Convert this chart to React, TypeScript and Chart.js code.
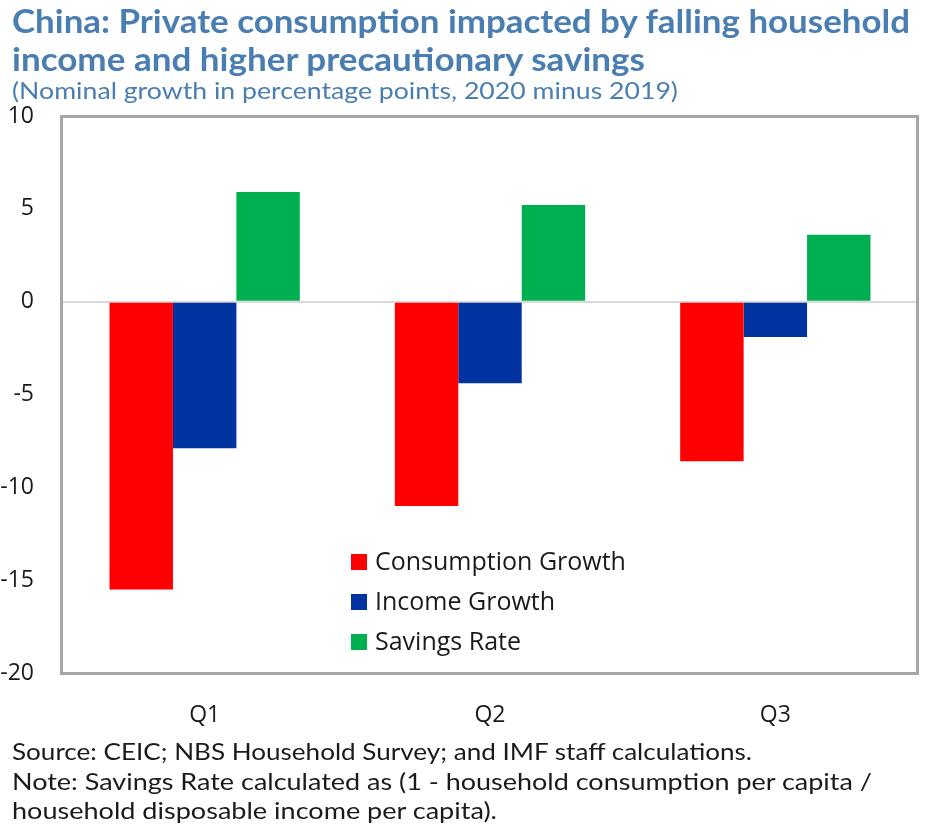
import React, { useEffect, useLayoutEffect, useRef } from "react";
import { Chart, registerables } from "chart.js";

Chart.register(...registerables);

const categories = ["Q1", "Q2", "Q3"];
const consumptionGrowth = [-15.5, -11.0, -8.6];
const incomeGrowth = [-7.9, -4.4, -1.9];
const savingsRate = [5.9, 5.2, 3.6];
const seriesLabels = ["Consumption Growth", "Income Growth", "Savings Rate"];
const yMin = -20;
const yMax = 10;
const yStep = 5;

const titleLines = [
  "China: Private consumption impacted by falling household",
  "income and higher precautionary savings",
];
const subtitle = "(Nominal growth in percentage points, 2020 minus 2019)";
const footerLines = [
  "Source: CEIC; NBS Household Survey; and IMF staff calculations.",
  "Note: Savings Rate calculated as (1 - household consumption per capita /",
  "household disposable income per capita).",
];

const BLUE_TITLE = "#4a7eb1";
const TEXT = "#1a1a1a";

function FitLine(props: {
  text: string;
  left: number;
  top: number;
  width: number;
  font: string;
  color: string;
}) {
  const ref = useRef<HTMLSpanElement>(null);
  useLayoutEffect(() => {
    const el = ref.current;
    if (!el) return;
    const fit = () => {
      el.style.transform = "none";
      const w = el.getBoundingClientRect().width;
      if (w > 0) el.style.transform = `scaleX(${props.width / w})`;
    };
    fit();
    if ((document as any).fonts) (document as any).fonts.ready.then(fit);
  }, [props.text, props.width, props.font]);
  return (
    <span
      ref={ref}
      style={{
        position: "absolute",
        left: props.left,
        top: props.top,
        whiteSpace: "nowrap",
        font: props.font,
        color: props.color,
        lineHeight: 1,
        display: "inline-block",
        transformOrigin: "0 0",
      }}
    >
      {props.text}
    </span>
  );
}

const framePlugin = {
  id: "frame",
  afterDatasetsDraw(chart: any) {
    const { ctx, chartArea } = chart;
    ctx.save();
    ctx.strokeStyle = "#a6a6a6";
    ctx.lineWidth = 3;
    ctx.strokeRect(
      chartArea.left - 0.5,
      chartArea.top + 0.5,
      chartArea.right - chartArea.left,
      chartArea.bottom - chartArea.top
    );
    ctx.restore();
  },
};

const legendPlugin = {
  id: "insideLegend",
  afterDatasetsDraw(chart: any) {
    const { ctx, chartArea } = chart;
    const x0 = chartArea.left + 289;
    const y0 = chartArea.top + 446;
    ctx.save();
    chart.data.datasets.forEach((ds: any, i: number) => {
      const cy = y0 + i * 40;
      ctx.fillStyle = ds.backgroundColor;
      ctx.fillRect(x0, cy - 8, 16, 16);
      ctx.fillStyle = TEXT;
      ctx.font = "25px 'Open Sans'";
      ctx.textBaseline = "middle";
      ctx.textAlign = "left";
      ctx.fillText(ds.label, x0 + 24, cy + 1);
    });
    ctx.restore();
  },
};

function BarChart() {
  const canvasRef = useRef<HTMLCanvasElement>(null);
  useEffect(() => {
    const canvas = canvasRef.current;
    if (!canvas) return;
    const chart = new Chart(canvas, {
      type: "bar",
      data: {
        labels: categories,
        datasets: [
          { label: seriesLabels[0], data: consumptionGrowth, backgroundColor: "#ff0000" },
          { label: seriesLabels[1], data: incomeGrowth, backgroundColor: "#0033a0" },
          { label: seriesLabels[2], data: savingsRate, backgroundColor: "#00b050" },
        ],
      },
      options: {
        responsive: false,
        animation: false,
        devicePixelRatio: 1,
        layout: { padding: { left: 0, top: 116, right: 14, bottom: 0 } },
        datasets: { bar: { categoryPercentage: 0.667, barPercentage: 1.0, borderWidth: 0 } },
        plugins: {
          legend: { display: false },
          title: { display: false },
          tooltip: { enabled: false },
        },
        scales: {
          x: {
            grid: { display: false, drawTicks: false },
            border: { display: false },
            ticks: {
              color: TEXT,
              font: { family: "'Open Sans'", size: 23 },
              padding: 29,
            },
            afterFit: (s: any) => {
              s.height = 161;
            },
          },
          y: {
            min: yMin,
            max: yMax,
            ticks: {
              stepSize: yStep,
              color: TEXT,
              font: { family: "'Open Sans'", size: 23 },
              padding: 28,
            },
            grid: {
              drawTicks: false,
              lineWidth: 2,
              color: (c: any) => (c.tick && c.tick.value === 0 ? "#d9d9d9" : "rgba(0,0,0,0)"),
            },
            border: { display: false },
            afterFit: (s: any) => {
              s.width = 62;
            },
          },
        },
      },
      plugins: [framePlugin, legendPlugin],
    });
    return () => chart.destroy();
  }, []);
  return (
    <canvas
      ref={canvasRef}
      width={932}
      height={834}
      style={{ position: "absolute", left: 0, top: 0, width: 932, height: 834 }}
    />
  );
}

export default function App() {
  return (
    <div
      style={{
        position: "absolute",
        left: 0,
        top: 0,
        width: 932,
        height: 834,
        background: "#ffffff",
        overflow: "hidden",
      }}
    >
      <BarChart />
      <FitLine text={titleLines[0]} left={12} top={4} width={898} font="bold 33px Lato" color={BLUE_TITLE} />
      <FitLine text={titleLines[1]} left={12} top={42} width={633} font="bold 33px Lato" color={BLUE_TITLE} />
      <FitLine text={subtitle} left={12} top={78} width={666} font="24px Lato" color={BLUE_TITLE} />
      <FitLine text={footerLines[0]} left={12} top={740} width={740} font="23px Lato" color={TEXT} />
      <FitLine text={footerLines[1]} left={12} top={770} width={860} font="23px Lato" color={TEXT} />
      <FitLine text={footerLines[2]} left={12} top={799} width={485} font="23px Lato" color={TEXT} />
    </div>
  );
}
